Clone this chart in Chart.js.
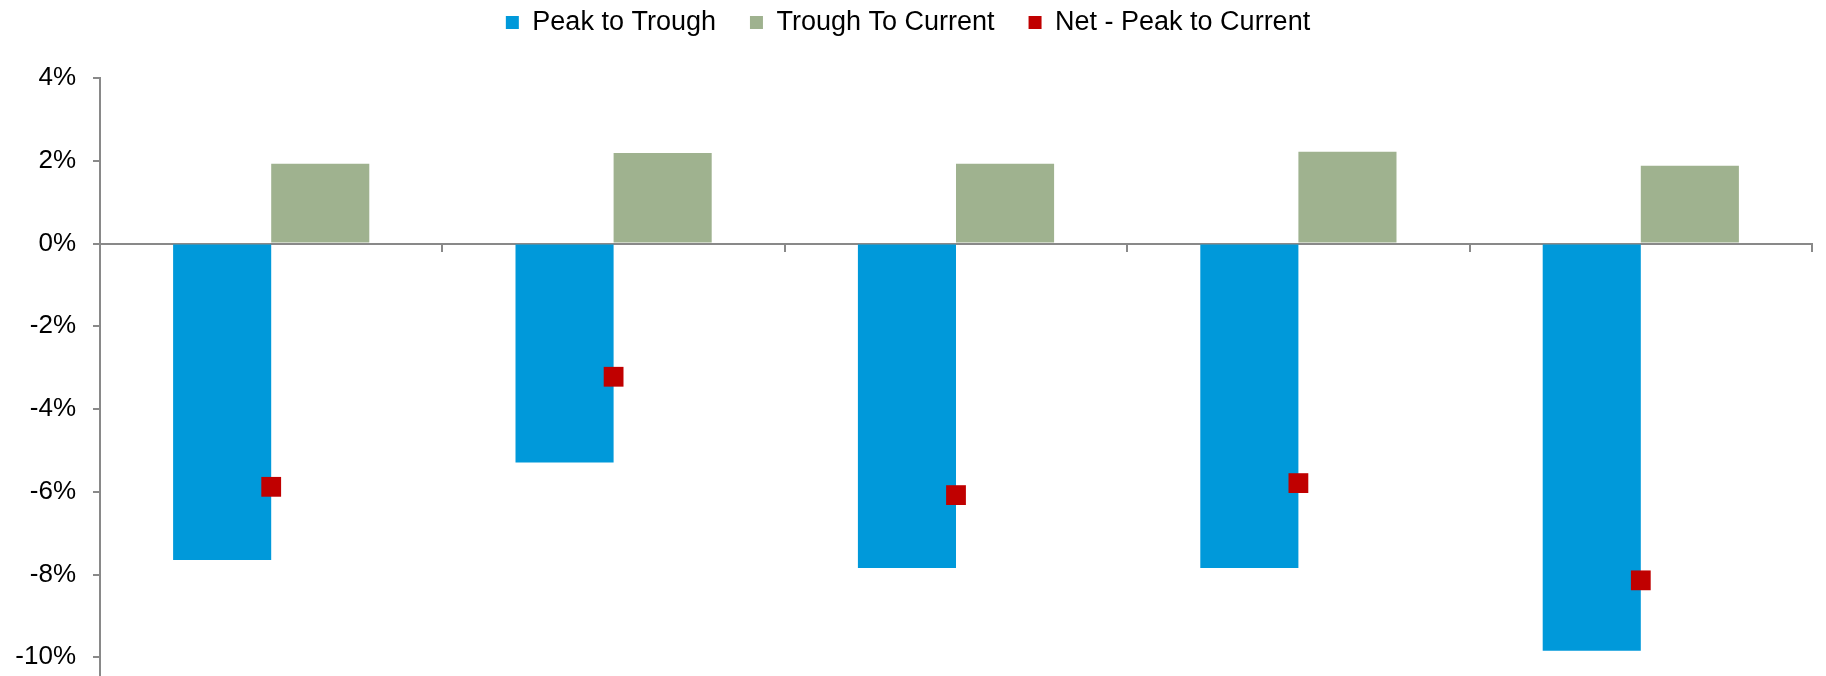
<!DOCTYPE html>
<html><head><meta charset="utf-8">
<script src="https://cdn.jsdelivr.net/npm/chart.js@4.4.1/dist/chart.umd.min.js"></script>
<style>
html,body{margin:0;padding:0;background:#fff;overflow:hidden}
#wrap{width:1826px;height:676px;overflow:hidden;position:relative}
#c{display:block}
</style>
</head><body>
<div id="wrap"><canvas id="c" width="1826" height="692"></canvas></div>
<script>
// ---- data ----
const categories = ["1", "2", "3", "4", "5"];
const seriesNames = ["Peak to Trough", "Trough To Current", "Net - Peak to Current"];
const peakToTrough = [-7.65, -5.29, -7.84, -7.84, -9.84];
const troughToCurrent = [1.93, 2.19, 1.93, 2.22, 1.88];
const netPeakToCurrent = [-5.88, -3.22, -6.08, -5.79, -8.14];
const yTickValues = [4, 2, 0, -2, -4, -6, -8, -10];

const FONT = '"Liberation Sans", Arial, Helvetica, sans-serif';
const AXIS = '#898989';

const legendSpacer = {
  id: 'legendSpacer',
  beforeInit(chart) {
    const lg = chart.legend;
    const orig = lg.fit;
    lg.fit = function () { orig.call(this); this.height += 32; };
  }
};

new Chart(document.getElementById('c'), {
  type: 'bar',
  data: {
    labels: categories,
    datasets: [
      { label: seriesNames[0], data: peakToTrough, backgroundColor: '#0099DA', borderWidth: 0, order: 1,
        categoryPercentage: 0.573, barPercentage: 1.0 },
      { label: seriesNames[1], data: troughToCurrent, backgroundColor: '#9FB28F', borderWidth: 0, order: 1,
        categoryPercentage: 0.573, barPercentage: 1.0 },
      { type: 'line', label: seriesNames[2], data: netPeakToCurrent, showLine: false,
        pointStyle: 'rect', pointRadius: 14, pointHoverRadius: 14,
        backgroundColor: '#C00000', borderColor: '#C00000', borderWidth: 0, order: 0 }
    ]
  },
  options: {
    responsive: false,
    devicePixelRatio: 1,
    animation: false,
    layout: { padding: { top: -25, left: 0, right: 10, bottom: 0 } },
    plugins: {
      tooltip: { enabled: false },
      legend: {
        position: 'top',
        labels: { boxWidth: 13, boxHeight: 13, padding: 34, color: '#000',
                  font: { size: 27, family: FONT },
                  sort: (a, b) => a.datasetIndex - b.datasetIndex }
      }
    },
    scales: {
      x: {
        position: { y: 0 },
        offset: true,
        z: 1,
        afterFit(scale) { scale.height = 0; scale.paddingLeft = 0; scale.paddingRight = 0; },
        grid: { display: true, drawOnChartArea: false, drawTicks: true, offset: true,
                tickLength: 7, color: AXIS, lineWidth: 2 },
        border: { display: true, color: AXIS, width: 2 },
        ticks: { display: false }
      },
      y: {
        min: -10.5,
        max: 4,
        afterBuildTicks(scale) { scale.ticks = yTickValues.map(v => ({ value: v })); },
        afterFit(scale) { scale.width = 100; scale.paddingTop = 0; scale.paddingBottom = 0; },
        grid: { display: true, drawOnChartArea: false, drawTicks: true, tickLength: 7,
                color: AXIS, lineWidth: 2 },
        border: { display: true, color: AXIS, width: 2 },
        ticks: { padding: 17, color: '#000', font: { size: 26, family: FONT },
                 callback: v => v + '%' }
      }
    }
  },
  plugins: [legendSpacer]
});
</script>
</body></html>
